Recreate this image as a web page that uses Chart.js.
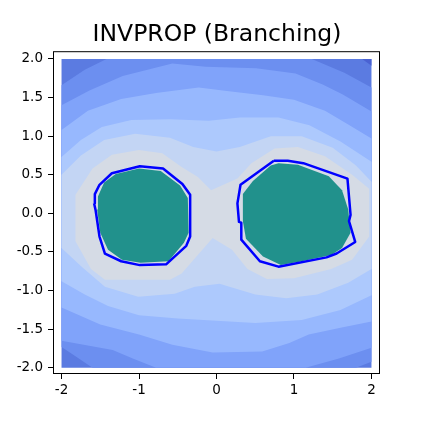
<!DOCTYPE html>
<html>
<head>
<meta charset="utf-8">
<script src="https://cdn.jsdelivr.net/npm/chart.js@4.4.0/dist/chart.umd.min.js"></script>
<style>
html, body { margin: 0; padding: 0; background: #fff; }
canvas { display: block; }
</style>
</head>
<body>
<canvas id="chart" width="423" height="423"></canvas>
<script>
const xTicks = [-2, -1, 0, 1, 2];
const yTicks = [-2, -1.5, -1, -0.5, 0, 0.5, 1, 1.5, 2];

// filled contour levels, darkest (outer) first; each is the region at or above that level
const level0 = [[-2, 2], [2, 2], [2, -2], [-2, -2]];
const cornerTR = [[1.88, 2], [2, 2], [2, 1.91]];
const level1 = [[-2, 1.66], [-1.70, 1.86], [-1.42, 2], [1.23, 2], [1.65, 1.82], [2, 1.63], [2, -1.92], [1.80, -2], [-1.60, -2], [-1.82, -1.85], [-2, -1.73]];
const level2 = [[-2, 1.40], [-1.64, 1.59], [-1.21, 1.78], [-0.57, 1.94], [-0.14, 1.90], [0.51, 1.88], [1.02, 1.81], [1.37, 1.67], [1.63, 1.54], [2, 1.32], [2, -1.74], [1.58, -1.88], [1.15, -2], [-0.78, -2], [-1.08, -1.88], [-1.34, -1.77], [-2, -1.65]];
const level3 = [[-2, 1.08], [-1.66, 1.33], [-1.23, 1.48], [-0.78, 1.56], [-0.23, 1.63], [0.16, 1.58], [0.6, 1.53], [1.0, 1.47], [1.4, 1.33], [1.7, 1.15], [2, 0.97], [2, -1.40], [1.6, -1.48], [1.19, -1.57], [0.94, -1.68], [0.59, -1.79], [-0.05, -1.80], [-0.57, -1.70], [-1.0, -1.57], [-1.5, -1.44], [-2, -1.22]];
const level4 = [[-2, 0.73], [-1.75, 0.95], [-1.48, 1.12], [-1.1, 1.21], [-0.6, 1.22], [-0.1, 1.20], [0.3, 1.24], [0.8, 1.24], [1.2, 1.14], [1.6, 0.93], [2, 0.67], [2, -1.06], [1.6, -1.25], [1.1, -1.38], [0.5, -1.42], [0, -1.39], [-0.5, -1.36], [-1.0, -1.32], [-1.4, -1.2], [-1.7, -1.05], [-2, -0.88]];
const level5 = [[-2, 0.50], [-1.75, 0.75], [-1.45, 0.95], [-1.05, 1.03], [-0.6, 0.98], [-0.3, 0.86], [0, 0.80], [0.3, 0.86], [0.7, 1.0], [1.1, 1.0], [1.5, 0.85], [1.8, 0.62], [2, 0.41], [2, -0.72], [1.7, -0.9], [1.3, -1.05], [0.9, -1.1], [0.5, -1.05], [0.04, -0.91], [-0.28, -0.95], [-0.54, -1.04], [-1.01, -1.08], [-1.44, -0.95], [-1.74, -0.69], [-2, -0.45]];
const level6 = [[-1.82, 0.24], [-1.6, 0.58], [-1.35, 0.76], [-1.0, 0.82], [-0.7, 0.78], [-0.45, 0.6], [-0.24, 0.47], [-0.07, 0.30], [0.27, 0.45], [0.45, 0.65], [0.75, 0.84], [1.05, 0.86], [1.4, 0.74], [1.75, 0.5], [1.97, 0.32], [1.97, -0.3], [1.75, -0.6], [1.48, -0.72], [1.0, -0.84], [0.65, -0.85], [0.4, -0.72], [0.2, -0.47], [-0.05, -0.32], [-0.25, -0.55], [-0.45, -0.78], [-0.6, -0.86], [-1.44, -0.86], [-1.62, -0.72], [-1.82, -0.36]];

// exact (teal) regions and the branching over-approximation (blue)
const exactLeft = [[-1.53, 0.22], [-1.45, 0.40], [-1.30, 0.51], [-1.0, 0.58], [-0.72, 0.55], [-0.47, 0.36], [-0.37, 0.20], [-0.36, -0.25], [-0.42, -0.38], [-0.62, -0.62], [-0.98, -0.64], [-1.22, -0.60], [-1.40, -0.47], [-1.50, -0.25], [-1.54, 0.05]];
const exactRight = [[0.34, 0.25], [0.47, 0.42], [0.70, 0.62], [0.80, 0.65], [1.05, 0.63], [1.45, 0.48], [1.62, 0.30], [1.70, 0.05], [1.73, -0.25], [1.62, -0.45], [1.48, -0.54], [1.10, -0.62], [0.83, -0.67], [0.60, -0.56], [0.38, -0.33], [0.34, -0.10]];
const boundLeft = [[-1.58, 0.13], [-1.57, 0.25], [-1.51, 0.37], [-1.35, 0.52], [-0.99, 0.61], [-0.69, 0.58], [-0.44, 0.38], [-0.34, 0.24], [-0.34, -0.30], [-0.39, -0.42], [-0.65, -0.66], [-0.99, -0.67], [-1.23, -0.62], [-1.44, -0.52], [-1.51, -0.30], [-1.56, 0.04]];
const boundRight = [[0.74, 0.68], [0.92, 0.68], [1.12, 0.65], [1.69, 0.45], [1.73, -0.02], [1.71, -0.10], [1.79, -0.37], [1.55, -0.52], [1.42, -0.57], [0.80, -0.69], [0.56, -0.62], [0.32, -0.34], [0.32, -0.12], [0.29, -0.11], [0.27, 0.13], [0.31, 0.37]];

const levelColors = ['#5b7be1', '#4a62d2', '#6c8ff0', '#80a3fa', '#97b8fe', '#adc9fd', '#c3d5f4', '#d5dbe5'];
const levels = [level0, cornerTR, level1, level2, level3, level4, level5, level6];

function closed(pts) {
    const out = pts.map(p => ({x: p[0], y: p[1]}));
    out.push({x: pts[0][0], y: pts[0][1]});
    return out;
}

const layers = [];
levels.forEach((pts, i) => {
    layers.push({
        data: closed(pts),
        showLine: true,
        fill: 'shape',
        backgroundColor: levelColors[i],
        borderWidth: 0,
        pointRadius: 0,
        tension: 0
    });
});
[exactLeft, exactRight].forEach(pts => {
    layers.push({
        data: closed(pts),
        showLine: true,
        fill: 'shape',
        backgroundColor: '#21918c',
        borderWidth: 0,
        pointRadius: 0,
        tension: 0
    });
});
[boundLeft, boundRight].forEach(pts => {
    layers.push({
        data: closed(pts),
        showLine: true,
        fill: false,
        borderColor: '#0000ff',
        borderWidth: 2.5,
        borderJoinStyle: 'round',
        pointRadius: 0,
        tension: 0
    });
});
// later layers go on top
layers.forEach((d, i) => { d.order = layers.length - i; });

const frame = {
    id: 'frame',
    afterDraw(chart) {
        const a = chart.chartArea;
        const ctx = chart.ctx;
        ctx.save();
        ctx.strokeStyle = '#000';
        ctx.lineWidth = 1;
        ctx.strokeRect(a.left + 0.5, a.top + 0.5, a.right - a.left - 1, a.bottom - a.top - 1);
        ctx.restore();
    }
};

const tickFont = {family: 'DejaVu Sans', size: 13.5};

new Chart(document.getElementById('chart'), {
    type: 'scatter',
    data: {datasets: layers},
    options: {
        responsive: false,
        animation: false,
        devicePixelRatio: 1,
        layout: {padding: {left: 11, right: 0, top: 0, bottom: 0}},
        plugins: {
            legend: {display: false},
            tooltip: {enabled: false},
            title: {
                display: true,
                text: 'INVPROP (Branching)',
                color: '#000',
                font: {family: 'DejaVu Sans', size: 23.5, weight: 'normal'},
                padding: {top: 21, bottom: 2}
            }
        },
        scales: {
            x: {
                type: 'linear',
                min: -2.11,
                max: 2.11,
                afterBuildTicks: s => { s.ticks = xTicks.map(v => ({value: v})); },
                afterFit: s => { s.height = 49; },
                ticks: {color: '#000', font: tickFont, padding: 3, maxRotation: 0, callback: v => String(v)},
                grid: {drawOnChartArea: false, drawTicks: true, tickLength: 5, color: '#000'},
                border: {display: false}
            },
            y: {
                type: 'linear',
                min: -2.08,
                max: 2.1,
                afterBuildTicks: s => { s.ticks = yTicks.map(v => ({value: v})); },
                afterFit: s => { s.width = 42; },
                ticks: {color: '#000', font: tickFont, padding: 5, callback: v => v.toFixed(1)},
                grid: {drawOnChartArea: false, drawTicks: true, tickLength: 5, color: '#000'},
                border: {display: false}
            },
            yRight: {
                type: 'linear',
                position: 'right',
                min: -2.08,
                max: 2.1,
                afterFit: s => { s.width = 43; },
                ticks: {display: false},
                grid: {display: false},
                border: {display: false}
            }
        }
    },
    plugins: [frame]
});
</script>
</body>
</html>
